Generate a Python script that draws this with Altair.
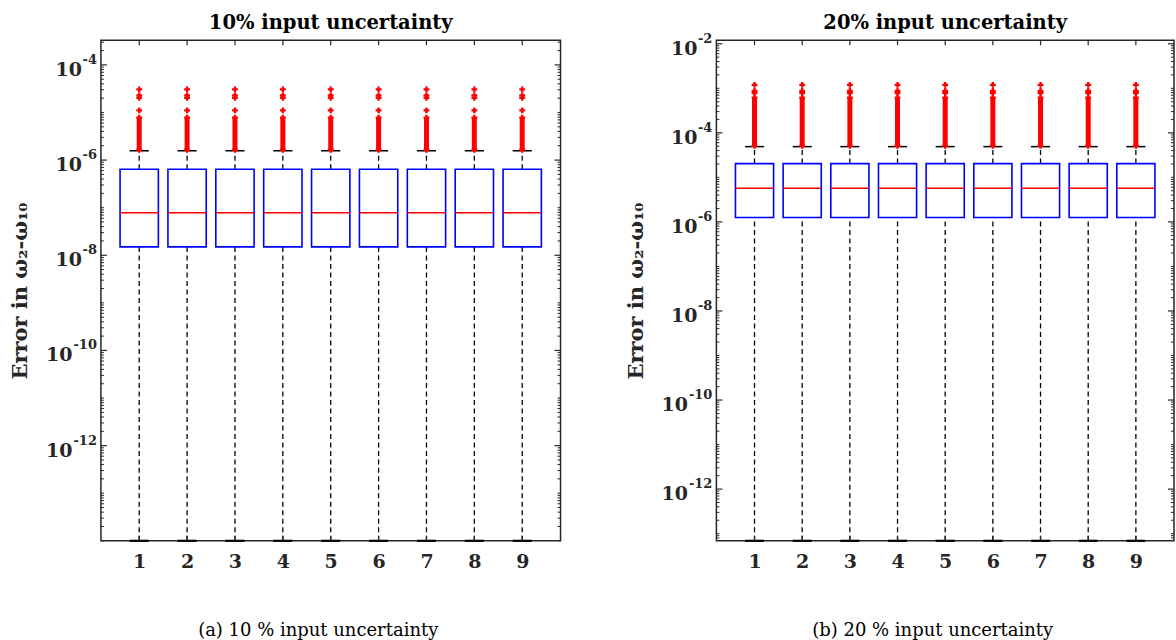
import altair as alt
import pandas as pd

# ---------------- data ----------------
cats = [1, 2, 3, 4, 5, 6, 7, 8, 9]

# (a) 10 % input uncertainty
a_q1 = [1.5e-8, 1.5e-8, 1.5e-8, 1.5e-8, 1.5e-8, 1.5e-8, 1.5e-8, 1.5e-8, 1.5e-8]
a_med = [7.8e-8, 7.8e-8, 7.8e-8, 7.8e-8, 7.8e-8, 7.8e-8, 7.8e-8, 7.8e-8, 7.8e-8]
a_q3 = [6.4e-7, 6.4e-7, 6.4e-7, 6.4e-7, 6.4e-7, 6.4e-7, 6.4e-7, 6.4e-7, 6.4e-7]
a_whi = [1.57e-6, 1.57e-6, 1.57e-6, 1.57e-6, 1.57e-6, 1.57e-6, 1.57e-6, 1.57e-6, 1.57e-6]
a_wlo = [1e-14, 1e-14, 1e-14, 1e-14, 1e-14, 1e-14, 1e-14, 1e-14, 1e-14]
a_dense_lo = [1.65e-6] * 9
a_dense_hi = [7.8e-6] * 9
a_outliers = [1.11e-5, 2.04e-5, 2.29e-5, 3.06e-5]
a_domain = [1e-14, 3.3e-4]
a_label_exp = [-12, -10, -8, -6, -4]

# (b) 20 % input uncertainty
b_q1 = [1.26e-6, 1.26e-6, 1.26e-6, 1.26e-6, 1.26e-6, 1.26e-6, 1.26e-6, 1.26e-6, 1.26e-6]
b_med = [5.7e-6, 5.7e-6, 5.7e-6, 5.7e-6, 5.7e-6, 5.7e-6, 5.7e-6, 5.7e-6, 5.7e-6]
b_q3 = [2.04e-5, 2.04e-5, 2.04e-5, 2.04e-5, 2.04e-5, 2.04e-5, 2.04e-5, 2.04e-5, 2.04e-5]
b_whi = [4.9e-5, 4.9e-5, 4.9e-5, 4.9e-5, 4.9e-5, 4.9e-5, 4.9e-5, 4.9e-5, 4.9e-5]
b_wlo = [6.9e-14, 6.9e-14, 6.9e-14, 6.9e-14, 6.9e-14, 6.9e-14, 6.9e-14, 6.9e-14, 6.9e-14]
b_dense_lo = [5.1e-5] * 9
b_dense_hi = [6.2e-4] * 9
b_outliers = [7.8e-4, 8.7e-4, 1.19e-3]
b_domain = [6.9e-14, 1.2e-2]
b_label_exp = [-12, -10, -8, -6, -4, -2]

# ---------------- styling ----------------
AX = "#262626"
FONT = "DejaVu Serif"


def panel(q1, med, q3, whi, wlo, dlo, dhi, outl, domain, label_exp, title, caption, W, H):
    box = pd.DataFrame({"cat": cats, "q1": q1, "med": med, "q3": q3,
                        "whi": whi, "wlo": wlo, "dlo": dlo, "dhi": dhi})
    outs = pd.DataFrame([{"cat": c, "v": v} for c in cats for v in outl])
    inside = lambda v: domain[0] * 0.999 <= v <= domain[1] * 1.001
    major = [10.0 ** e for e in label_exp]
    minor = [m * 10.0 ** e for e in range(-15, 0) for m in range(2, 10)]
    minor += [10.0 ** e for e in range(-15, 0) if e not in label_exp]
    minor = [v for v in minor if inside(v)]
    ticks_major = pd.DataFrame({"v": major})
    ticks_minor = pd.DataFrame({"v": minor})
    xt = pd.DataFrame({"cat": cats})
    labels = pd.DataFrame({"v": major, "base": ["10"] * len(label_exp),
                           "exp": [str(e) for e in label_exp],
                           "n": [len(str(-e)) for e in label_exp]})
    ttl = pd.DataFrame({"t": [title]})

    yscale = alt.Scale(type="log", domain=domain, nice=False)
    xscale = alt.Scale(domain=[0.2, 9.8], nice=False, zero=False)
    yaxis = alt.Axis(values=major, labels=False, ticks=False, domain=False, grid=False,
                     title="Error in ω₂-ω₁₀", titleFont=FONT, titleFontSize=21,
                     titleFontWeight="bold", titleColor=AX, titleX=-74, titleY=H / 2,
                     titleBaseline="alphabetic", titleAngle=270, titleAlign="center")
    xaxis = alt.Axis(values=cats, tickSize=0, domain=False, grid=False, labelFont=FONT,
                     labelFontWeight="bold", labelFontSize=19, labelColor=AX, labelPadding=12,
                     title=caption, titleFont=FONT, titleFontWeight="normal", titleFontSize=18,
                     titleColor="black", titleX=W / 2 - 13, titleY=95,
                     titleBaseline="alphabetic", titleAlign="center")

    def X(f):
        return alt.X(f, type="quantitative", scale=xscale, axis=xaxis)

    def Y(f):
        return alt.Y(f, type="quantitative", scale=yscale, axis=yaxis)

    base = alt.Chart(box).transform_calculate(
        x0="datum.cat - 0.4", x1="datum.cat + 0.4",
        c0="datum.cat - 0.2", c1="datum.cat + 0.2")

    dash = dict(color="black", strokeWidth=1.3, strokeDash=[5, 3.5])
    whisk_up = base.mark_rule(**dash).encode(x=X("cat"), y=Y("q3"), y2="whi")
    whisk_dn = base.mark_rule(**dash).encode(x=X("cat"), y=Y("wlo"), y2="q1")
    cap_up = base.mark_rule(color="black", strokeWidth=1.5).encode(
        x=X("c0"), x2="c1", y=Y("whi"))
    cap_dn = base.mark_rule(color="black", strokeWidth=2.2).encode(
        x=X("c0"), x2="c1", y=Y("wlo"))
    rect = base.mark_rect(fill="white", fillOpacity=0, stroke="#0000FF", strokeWidth=1.6).encode(
        x=X("x0"), x2="x1", y=Y("q1"), y2="q3")
    medl = base.mark_rule(color="#FF0000", strokeWidth=1.6).encode(
        x=X("x0"), x2="x1", y=Y("med"))
    dense = base.mark_rule(color="#FF0000", strokeWidth=5).encode(
        x=X("cat"), y=Y("dlo"), y2="dhi")
    dense_ends = alt.Chart(box).transform_fold(["dlo", "dhi"], as_=["k", "v"]).mark_point(
        shape="cross", filled=True, color="#FF0000", size=34, opacity=1).encode(
        x=X("cat"), y=Y("v:Q"))
    opts = alt.Chart(outs).mark_point(shape="cross", filled=True, color="#FF0000",
                                      size=34, opacity=1).encode(x=X("cat"), y=Y("v"))

    # inward ticks (MATLAB style box axes)
    tl_major = alt.Chart(ticks_major).mark_rule(color=AX, strokeWidth=1.2).encode(
        y=Y("v"), x=alt.value(0), x2=alt.value(6))
    tr_major = alt.Chart(ticks_major).mark_rule(color=AX, strokeWidth=1.2).encode(
        y=Y("v"), x=alt.value(W), x2=alt.value(W - 6))
    tl_minor = alt.Chart(ticks_minor).mark_rule(color=AX, strokeWidth=1).encode(
        y=Y("v"), x=alt.value(0), x2=alt.value(3))
    tr_minor = alt.Chart(ticks_minor).mark_rule(color=AX, strokeWidth=1).encode(
        y=Y("v"), x=alt.value(W), x2=alt.value(W - 3))
    tx_top = alt.Chart(xt).mark_rule(color=AX, strokeWidth=1.2).encode(
        x=X("cat"), y=alt.value(0), y2=alt.value(5))
    tx_bot = alt.Chart(xt).mark_rule(color=AX, strokeWidth=1.2).encode(
        x=X("cat"), y=alt.value(H), y2=alt.value(H - 5))

    # y tick labels: "10" with a raised exponent
    lab_style = dict(font=FONT, fontWeight="bold", color=AX, align="right",
                     baseline="alphabetic")
    lab = alt.Chart(labels)
    base1 = lab.transform_filter("datum.n == 1").mark_text(fontSize=19, dy=11, **lab_style).encode(
        y=Y("v"), x=alt.value(-19), text="base:N")
    base2 = lab.transform_filter("datum.n == 2").mark_text(fontSize=19, dy=11, **lab_style).encode(
        y=Y("v"), x=alt.value(-28.5), text="base:N")
    expo = lab.mark_text(fontSize=13, dy=-1, **lab_style).encode(
        y=Y("v"), x=alt.value(-4), text="exp:N")

    head = alt.Chart(ttl).mark_text(font=FONT, fontSize=19.5, fontWeight="bold", color="black",
                                    align="center", baseline="alphabetic").encode(
        x=alt.value(W / 2), y=alt.value(-11), text="t:N")

    return alt.layer(
        whisk_up, whisk_dn, rect, medl, cap_up, cap_dn, dense, dense_ends, opts,
        tl_major, tr_major, tl_minor, tr_minor, tx_top, tx_bot,
        base1, base2, expo, head
    ).properties(width=W, height=H)


left = panel(a_q1, a_med, a_q3, a_whi, a_wlo, a_dense_lo, a_dense_hi, a_outliers, a_domain,
             a_label_exp, "10% input uncertainty", "(a) 10 % input uncertainty", 460, 501)
right = panel(b_q1, b_med, b_q3, b_whi, b_wlo, b_dense_lo, b_dense_hi, b_outliers, b_domain,
              b_label_exp, "20% input uncertainty", "(b) 20 % input uncertainty", 458, 501)

chart = alt.hconcat(left, right, spacing=62).properties(
    padding={"left": 9, "top": 12, "right": 0, "bottom": 0},
    background="white",
).configure_view(stroke=AX, strokeWidth=1.5)

chart.save("out.html", embed_options={"renderer": "svg", "actions": False})
